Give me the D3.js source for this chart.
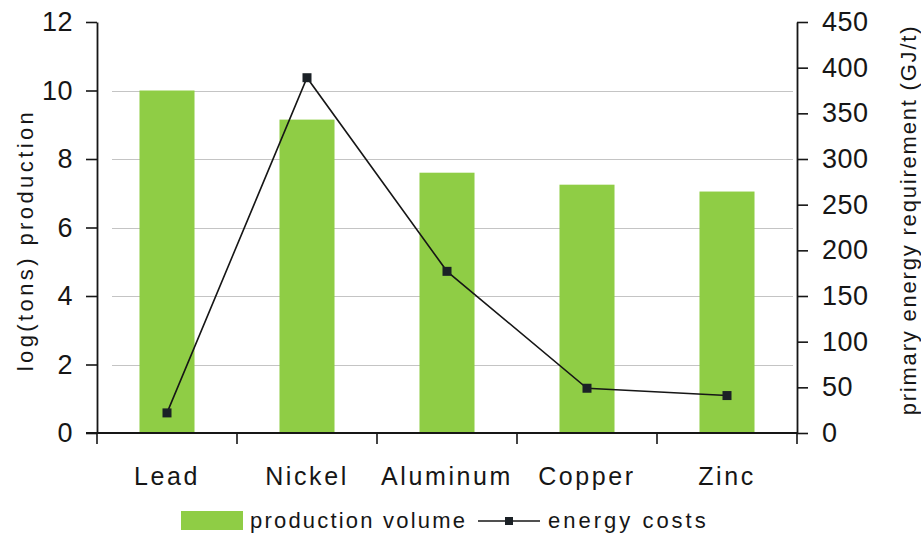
<!DOCTYPE html>
<html>
<head>
<meta charset="utf-8">
<script src="https://cdn.jsdelivr.net/npm/d3@7/dist/d3.min.js"></script>
<style>
  html, body { margin: 0; padding: 0; background: #ffffff; }
  svg { display: block; font-family: "Liberation Sans", Arial, Helvetica, sans-serif; }
</style>
</head>
<body>
<svg id="chart" width="921" height="535"></svg>
<script>
// Metals: production volume (log tons) and primary energy requirement (GJ/t)
const categories = ["Lead", "Nickel", "Aluminum", "Copper", "Zinc"];
const productionVolume = [10.0, 9.15, 7.6, 7.25, 7.05];
const energyCosts = [22, 389, 177, 49, 41];
const leftTicks = [0, 2, 4, 6, 8, 10, 12];
const rightTicks = [0, 50, 100, 150, 200, 250, 300, 350, 400, 450];
const gridTicks = [2, 4, 6, 8, 10];
const seriesNames = ["production volume", "energy costs"];

const svg = d3.select("#chart");
const plotLeft = 97, plotRight = 797, plotTop = 22, plotBottom = 433;
const barColor = "#8fcd45";
const ink = "#161616";

const x = d3.scaleBand()
  .domain(categories)
  .range([plotLeft, plotRight])
  .paddingInner(0.607)
  .paddingOuter(0.3035);
const yL = d3.scaleLinear().domain([0, 12]).range([plotBottom, plotTop]);
const yR = d3.scaleLinear().domain([0, 450]).range([plotBottom, plotTop]);

// horizontal gridlines (left scale)
svg.append("g")
  .selectAll("line")
  .data(gridTicks)
  .join("line")
  .attr("x1", plotLeft + 15).attr("x2", plotRight - 4)
  .attr("y1", d => Math.round(yL(d)) + 0.5)
  .attr("y2", d => Math.round(yL(d)) + 0.5)
  .attr("stroke", "#c4c4c4")
  .attr("stroke-width", 1.2);

// bars
svg.append("g")
  .selectAll("rect")
  .data(categories)
  .join("rect")
  .attr("x", d => x(d))
  .attr("width", x.bandwidth())
  .attr("y", (d, i) => yL(productionVolume[i]))
  .attr("height", (d, i) => yL(0) - yL(productionVolume[i]))
  .attr("fill", barColor);

// energy line on right scale
const cx = d => x(d) + x.bandwidth() / 2;
const line = d3.line()
  .x(d => cx(d.cat))
  .y(d => yR(d.v));
const pts = categories.map((c, i) => ({ cat: c, v: energyCosts[i] }));
svg.append("path")
  .datum(pts)
  .attr("d", line)
  .attr("fill", "none")
  .attr("stroke", ink)
  .attr("stroke-width", 1.6);
svg.append("g")
  .selectAll("rect")
  .data(pts)
  .join("rect")
  .attr("x", d => cx(d.cat) - 4.5)
  .attr("y", d => yR(d.v) - 4.5)
  .attr("width", 9).attr("height", 9)
  .attr("fill", "#1b2126");

// left axis
const gL = svg.append("g")
  .attr("transform", `translate(${plotLeft},0)`)
  .call(d3.axisLeft(yL).tickValues(leftTicks).tickSize(11).tickSizeOuter(0).tickPadding(13));
// right axis
const gR = svg.append("g")
  .attr("transform", `translate(${plotRight},0)`)
  .call(d3.axisRight(yR).tickValues(rightTicks).tickSize(11).tickSizeOuter(0).tickPadding(14));
[gL, gR].forEach(g => {
  g.select(".domain").attr("stroke", ink).attr("stroke-width", 1.8);
  g.selectAll(".tick line").attr("stroke", ink).attr("stroke-width", 1.6);
  g.selectAll(".tick text")
    .attr("fill", ink)
    .style("font-size", "27px")
    .style("letter-spacing", "0.5px");
});

// bottom axis: category labels
const gB = svg.append("g")
  .attr("transform", `translate(0,${plotBottom})`)
  .call(d3.axisBottom(x).tickSize(0).tickPadding(34));
gB.select(".domain").remove();
gB.selectAll(".tick text")
  .attr("fill", ink)
  .style("font-size", "25px")
  .style("letter-spacing", "2.6px");

// x baseline with ticks at category boundaries
svg.append("line")
  .attr("x1", plotLeft - 11).attr("x2", plotRight)
  .attr("y1", plotBottom).attr("y2", plotBottom)
  .attr("stroke", ink).attr("stroke-width", 1.8);
svg.append("g")
  .selectAll("line")
  .data([plotLeft].concat(categories.map(c => cx(c) + x.step() / 2)))
  .join("line")
  .attr("x1", d => d).attr("x2", d => d)
  .attr("y1", plotBottom).attr("y2", plotBottom + 11)
  .attr("stroke", ink).attr("stroke-width", 1.6);

// axis titles
svg.append("text")
  .attr("transform", `translate(33,240) rotate(-90)`)
  .attr("text-anchor", "middle")
  .attr("fill", ink)
  .style("font-size", "22px")
  .style("letter-spacing", "3.4px")
  .text("log(tons) production");
svg.append("text")
  .attr("transform", `translate(916,220) rotate(-90)`)
  .attr("text-anchor", "middle")
  .attr("fill", ink)
  .style("font-size", "22px")
  .style("letter-spacing", "1.8px")
  .text("primary energy requirement (GJ/t)");

// legend
const lg = svg.append("g");
lg.append("rect")
  .attr("x", 181).attr("y", 511).attr("width", 62).attr("height", 19)
  .attr("fill", barColor);
lg.append("text")
  .attr("x", 250).attr("y", 528)
  .attr("fill", ink)
  .style("font-size", "22px")
  .style("letter-spacing", "2.2px")
  .text(seriesNames[0]);
lg.append("line")
  .attr("x1", 478).attr("x2", 540).attr("y1", 521).attr("y2", 521)
  .attr("stroke", ink).attr("stroke-width", 1.6);
lg.append("rect")
  .attr("x", 505).attr("y", 517).attr("width", 8).attr("height", 8)
  .attr("fill", "#1b2126");
lg.append("text")
  .attr("x", 548).attr("y", 528)
  .attr("fill", ink)
  .style("font-size", "22px")
  .style("letter-spacing", "3px")
  .text(seriesNames[1]);
</script>
</body>
</html>
